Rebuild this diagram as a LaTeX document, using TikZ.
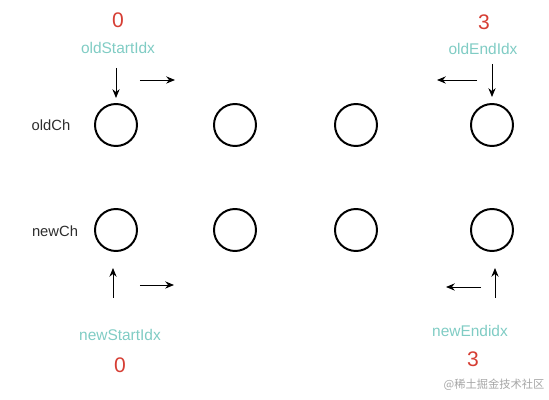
\documentclass[tikz,border=0pt]{standalone}
\usepackage{fontspec}
\setmainfont{Liberation Sans}
\newfontfamily\cjk{Noto Sans CJK SC}
\usetikzlibrary{arrows.meta, positioning}
\definecolor{idxred}{RGB}{214,62,52}
\definecolor{idxteal}{RGB}{128,204,196}
\definecolor{chgray}{RGB}{45,45,45}

\begin{document}
\begin{tikzpicture}[x=0.025cm, y=-0.025cm,
                        elem/.style={draw, circle, line width=1.4pt, minimum size=1.05cm, inner sep=0pt},
                        rowname/.style={text=chgray, font=\fontsize{10.5}{12}\selectfont},
                        idxname/.style={text=idxteal, font=\fontsize{11}{13}\selectfont},
                        idxval/.style={text=idxred, font=\fontsize{15}{17}\selectfont},
                        arr/.style={-{Stealth[length=2.2mm, width=1.8mm]}, line width=0.7pt}]
        \useasboundingbox (0,0) rectangle (549,400);
        % old children
        \node[rowname] (oldch) at (51,125) {oldCh};
        \node[elem] (o0) at (116,125) {};
        \node[elem] (o1) at (235,125) {};
        \node[elem] (o2) at (356,125) {};
        \node[elem] (o3) at (492,125) {};
        % new children
        \node[rowname] (newch) at (55,231) {newCh};
        \node[elem] (n0) at (116,230) {};
        \node[elem] (n1) at (235,230) {};
        \node[elem] (n2) at (356,230) {};
        \node[elem] (n3) at (492,230) {};
        % index labels
        \node[idxval] (osv) at (118,20) {0};
        \node[idxname] (osi) at (118,48) {oldStartIdx};
        \node[idxval] (oev) at (484,22) {3};
        \node[idxname] (oei) at (483,49) {oldEndIdx};
        \node[idxname] (nsi) at (120,335) {newStartIdx};
        \node[idxval] (nsv) at (120,365) {0};
        \node[idxname] (nei) at (470,331) {newEndidx};
        \node[idxval] (nev) at (473,359) {3};
        \node[text=black!35, font=\cjk\fontsize{8}{10}\selectfont] (mark) at (494,385) {@稀土掘金技术社区};
        % pointers
        \coordinate (osa) at (116,68);
        \coordinate (osb) at (116,98);
        \coordinate (oea) at (492,64);
        \coordinate (oeb) at (492,97);
        \coordinate (nsa) at (113,298);
        \coordinate (nsb) at (113,268);
        \coordinate (nea) at (495,298);
        \coordinate (neb) at (495,268);
        \coordinate (osr) at (140,80);
        \coordinate (osr2) at (175,80);
        \coordinate (oel) at (477,80);
        \coordinate (oel2) at (437,80);
        \coordinate (nsr) at (140,285);
        \coordinate (nsr2) at (174,285);
        \coordinate (nel) at (481,287);
        \coordinate (nel2) at (446,287);
        \draw[arr] (osa) -- (osb);
        \draw[arr] (oea) -- (oeb);
        \draw[arr] (nsa) -- (nsb);
        \draw[arr] (nea) -- (neb);
        \draw[arr] (osr) -- (osr2);
        \draw[arr] (oel) -- (oel2);
        \draw[arr] (nsr) -- (nsr2);
        \draw[arr] (nel) -- (nel2);
    \end{tikzpicture}
\end{document}
